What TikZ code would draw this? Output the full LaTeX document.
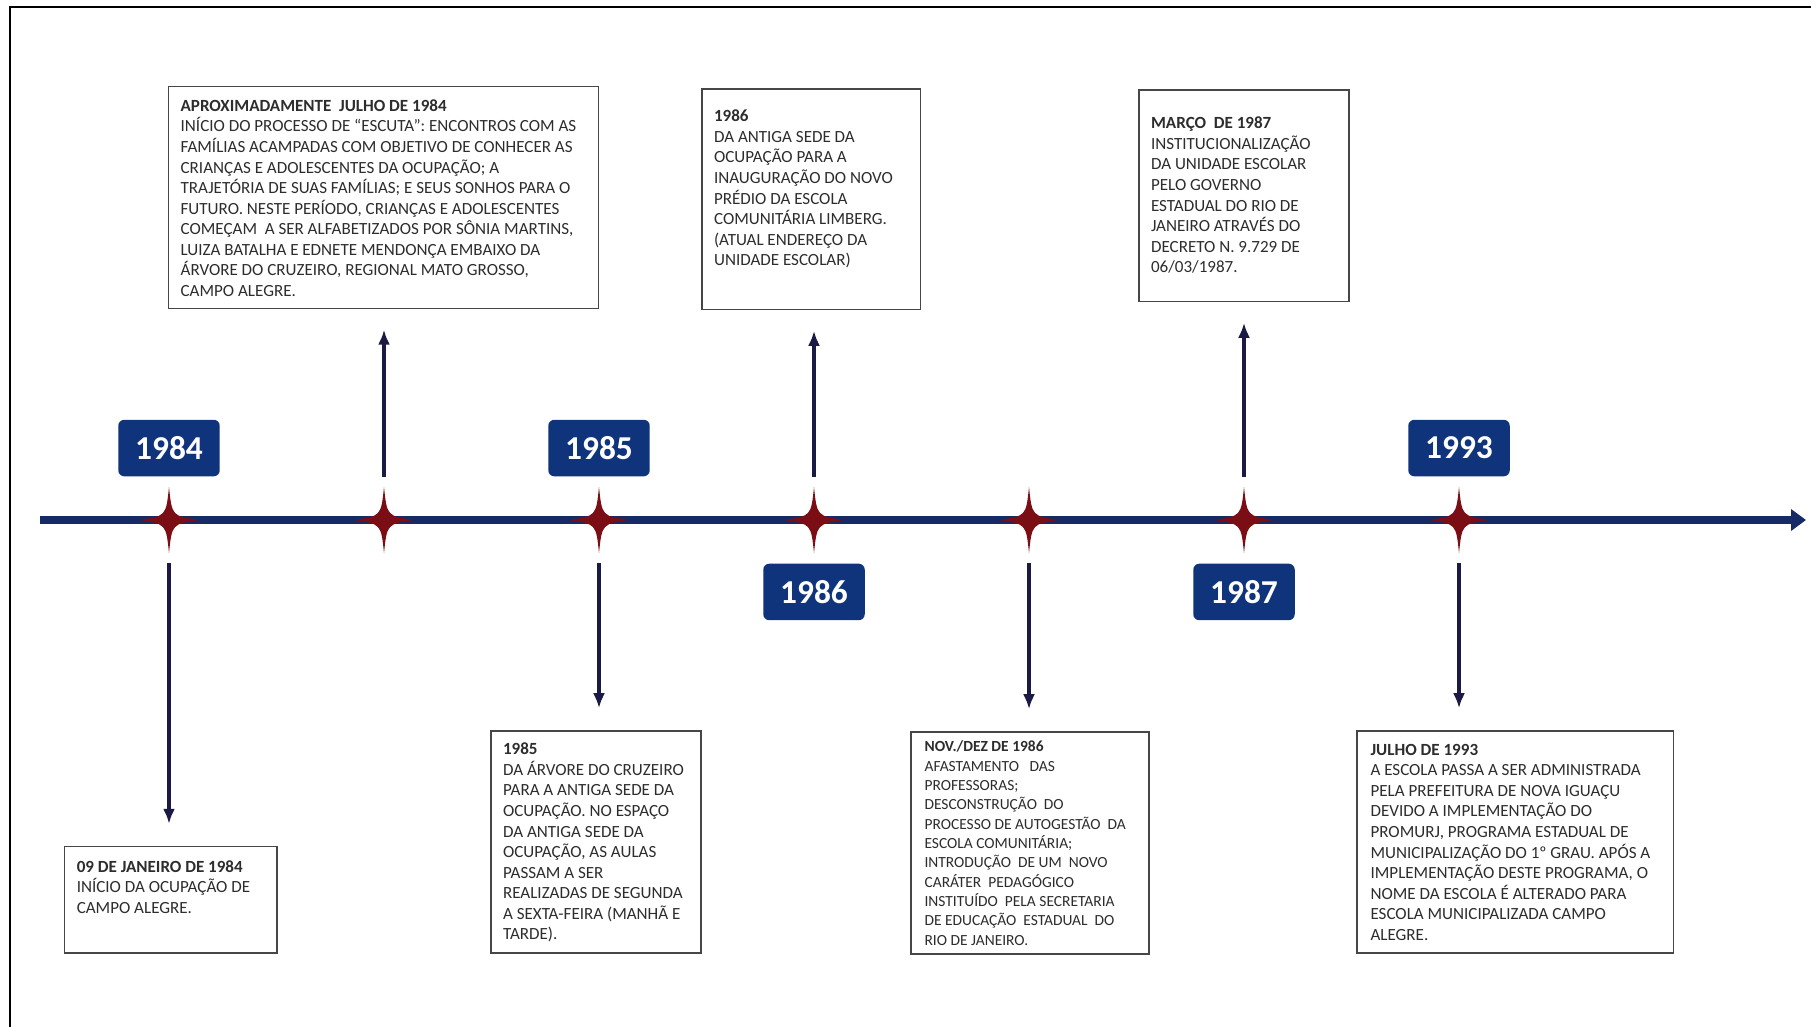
\documentclass[tikz,border=0pt]{standalone}
\usepackage{fontspec}
\setmainfont{Carlito}
\usetikzlibrary{positioning,fit,arrows.meta}
\definecolor{yearblue}{RGB}{16,52,124}
\definecolor{axisblue}{RGB}{22,42,102}
\definecolor{sparkred}{RGB}{122,14,20}
\definecolor{arrowink}{RGB}{26,26,68}
\definecolor{boxline}{RGB}{70,70,70}
\definecolor{boxtext}{RGB}{45,45,45}
\tikzset{
  pics/spark/.style={
    code={
      \fill[sparkred] (0,-33) .. controls (3,-4) .. (30,0) .. controls (3,4) .. (0,33)
        .. controls (-3,4) .. (-30,0) .. controls (-3,-4) .. cycle;
    }
  },
  starslot/.style={minimum width=1.1cm,minimum height=1.72cm,inner sep=0pt},
  yearbox/.style={fill=yearblue,text=white,rounded corners=0.12cm,minimum width=2.03cm,minimum height=1.13cm,
    inner sep=0pt,font=\fontsize{19}{22}\selectfont\bfseries},
  evbox/.style={draw=boxline,line width=0.9pt,inner sep=0pt,fill=white},
  evtext/.style={anchor=north west,align=left,inner sep=0pt,text=boxtext,font=\fontsize{9.7}{11.7}\selectfont},
  evarrow/.style={draw=arrowink,line width=2pt,-{Latex[length=0.3cm,width=0.24cm]}}
}

\begin{document}
\begin{tikzpicture}[x=0.02cm,y=-0.02cm]

	\clip (0,0) rectangle (1811,1027);
	\fill[white] (0,0) rectangle (1811,1027);
	\draw[line width=1.1pt] (10,7) rectangle (1840,1060); %outer frame

	%time axis
	\coordinate (axisL) at (40,520);
	\coordinate (axisR) at (1806,520);
	\draw[axisblue,line width=4.2pt,-{Triangle[length=0.3cm,width=0.42cm]}] (axisL) -- (axisR);

	%stars on the axis
	\foreach \i/\x in {1/169,2/384,3/599,4/814,5/1029,6/1244,7/1459}{
		\node[starslot] (s\i) at (\x,520) {};
		\pic at (s\i) {spark};
	}

	%year labels
	\node[yearbox,above=0pt of s1] (y1984) {1984};
	\node[yearbox,above=0pt of s3] (y1985) {1985};
	\node[yearbox,below=0pt of s4] (y1986) {1986};
	\node[yearbox,below=0pt of s6] (y1987) {1987};
	\node[yearbox,above=0pt of s7] (y1993) {1993};

	%event boxes above the axis
	\node[evbox,fit={(168.6,86.6) (598.3,308.4)}] (bA) {};
	\node[evtext] (tA) at ([xshift=0.25cm,yshift=-0.27cm]bA.north west) {\textbf{APROXIMADAMENTE\ \ JULHO DE 1984}\\
		INÍCIO DO PROCESSO DE “ESCUTA”: ENCONTROS COM AS\\
		FAMÍLIAS ACAMPADAS COM OBJETIVO DE CONHECER AS\\
		CRIANÇAS E ADOLESCENTES DA OCUPAÇÃO; A\\
		TRAJETÓRIA DE SUAS FAMÍLIAS; E SEUS SONHOS PARA O\\
		FUTURO. NESTE PERÍODO, CRIANÇAS E ADOLESCENTES\\
		COMEÇAM\ \ A SER ALFABETIZADOS POR SÔNIA MARTINS,\\
		LUIZA BATALHA E EDNETE MENDONÇA EMBAIXO DA\\
		ÁRVORE DO CRUZEIRO, REGIONAL MATO GROSSO,\\
		CAMPO ALEGRE.};
	\node[evbox,fit={(702,89) (920.5,309.5)}] (bB) {};
	\node[evtext] (tB) at ([xshift=0.25cm,yshift=-0.43cm]bB.north west) {\textbf{1986}\\
		DA ANTIGA SEDE DA\\
		OCUPAÇÃO PARA A\\
		INAUGURAÇÃO DO NOVO\\
		PRÉDIO DA ESCOLA\\
		COMUNITÁRIA LIMBERG.\\
		(ATUAL ENDEREÇO DA\\
		UNIDADE ESCOLAR)};
	\node[evbox,fit={(1139,90) (1349,301.5)}] (bC) {};
	\node[evtext] (tC) at ([xshift=0.25cm,yshift=-0.55cm]bC.north west) {\textbf{MARÇO\ \ DE 1987}\\
		INSTITUCIONALIZAÇÃO\\
		DA UNIDADE ESCOLAR\\
		PELO GOVERNO\\
		ESTADUAL DO RIO DE\\
		JANEIRO ATRAVÉS DO\\
		DECRETO N. 9.729 DE\\
		06/03/1987.};

	%event boxes below the axis
	\node[evbox,fit={(64.7,846.6) (277,953)}] (bD) {};
	\node[evtext] (tD) at ([xshift=0.25cm,yshift=-0.29cm]bD.north west) {\textbf{09 DE JANEIRO DE 1984}\\
		INÍCIO DA OCUPAÇÃO DE\\
		CAMPO ALEGRE.};
	\node[evbox,fit={(491,731) (701,953)}] (bE) {};
	\node[evtext] (tE) at ([xshift=0.25cm,yshift=-0.25cm]bE.north west) {\textbf{1985}\\
		DA ÁRVORE DO CRUZEIRO\\
		PARA A ANTIGA SEDE DA\\
		OCUPAÇÃO. NO ESPAÇO\\
		DA ANTIGA SEDE DA\\
		OCUPAÇÃO, AS AULAS\\
		PASSAM A SER\\
		REALIZADAS DE SEGUNDA\\
		A SEXTA-FEIRA (MANHÃ E\\
		TARDE).};
	\node[evbox,fit={(911,732) (1149,954)}] (bF) {};
	\node[evtext,font=\fontsize{8.8}{11}\selectfont] (tF) at ([xshift=0.28cm,yshift=-0.19cm]bF.north west) {\textbf{NOV./DEZ DE 1986}\\
		AFASTAMENTO\ \ \ DAS\\
		PROFESSORAS;\\
		DESCONSTRUÇÃO\ \ DO\\
		PROCESSO DE AUTOGESTÃO\ \ DA\\
		ESCOLA COMUNITÁRIA;\\
		INTRODUÇÃO\ \ DE UM\ \ NOVO\\
		CARÁTER\ \ PEDAGÓGICO\\
		INSTITUÍDO\ \ PELA SECRETARIA\\
		DE EDUCAÇÃO\ \ ESTADUAL\ \ DO\\
		RIO DE JANEIRO.};
	\node[evbox,fit={(1357,731) (1673.6,953)}] (bG) {};
	\node[evtext] (tG) at ([xshift=0.28cm,yshift=-0.27cm]bG.north west) {\textbf{JULHO DE 1993}\\
		A ESCOLA PASSA A SER ADMINISTRADA\\
		PELA PREFEITURA DE NOVA IGUAÇU\\
		DEVIDO A IMPLEMENTAÇÃO DO\\
		PROMURJ, PROGRAMA ESTADUAL DE\\
		MUNICIPALIZAÇÃO DO 1º GRAU. APÓS A\\
		IMPLEMENTAÇÃO DESTE PROGRAMA, O\\
		NOME DA ESCOLA É ALTERADO PARA\\
		ESCOLA MUNICIPALIZADA CAMPO\\
		ALEGRE.};

	%arrows from the stars to the events
	\draw[evarrow,shorten >=0.41cm] (s2.north) -- (s2.north |- bA.south);
	\draw[evarrow,shorten >=0.41cm] (s4.north) -- (s4.north |- bB.south);
	\draw[evarrow,shorten >=0.41cm] (s6.north) -- (s6.north |- bC.south);
	\draw[evarrow,shorten >=0.44cm] (s1.south) -- (s1.south |- bD.north);
	\draw[evarrow,shorten >=0.44cm] (s3.south) -- (s3.south |- bE.north);
	\draw[evarrow,shorten >=0.44cm] (s5.south) -- (s5.south |- bF.north);
	\draw[evarrow,shorten >=0.44cm] (s7.south) -- (s7.south |- bG.north);

\end{tikzpicture}
\end{document}
